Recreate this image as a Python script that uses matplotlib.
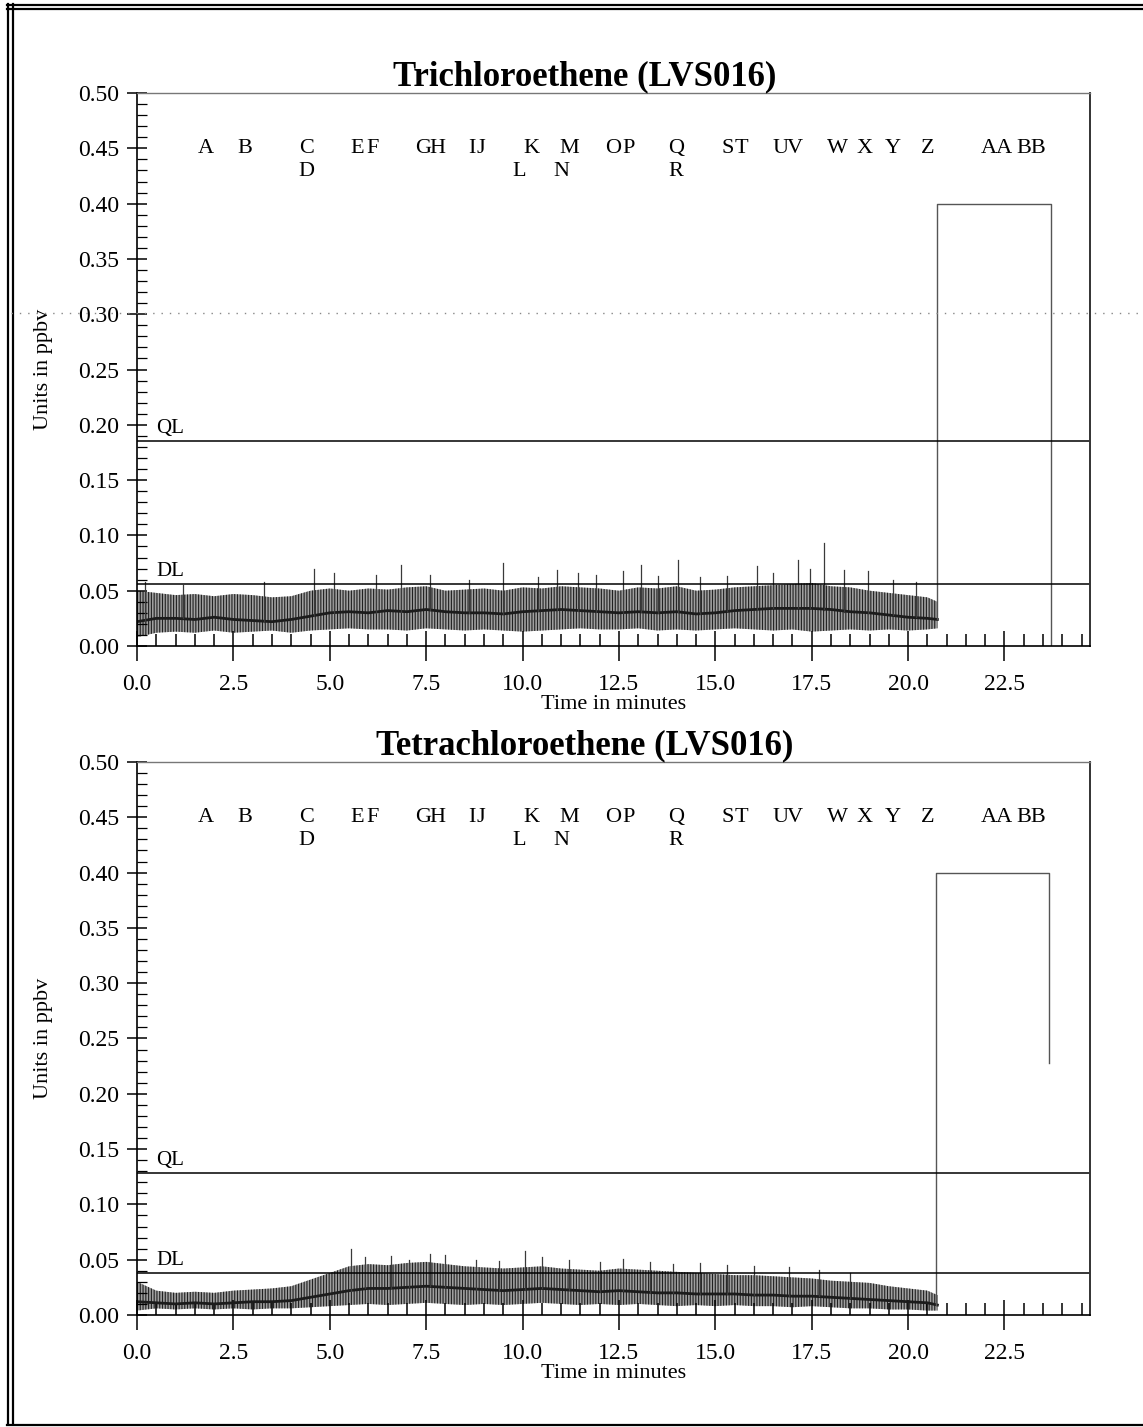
"""TCE / PCE chromatogram traces with QL and DL limits"""
import matplotlib
matplotlib.use("Agg")
import matplotlib.pyplot as plt
from matplotlib.lines import Line2D
from matplotlib.ticker import MultipleLocator, FormatStrFormatter

plt.rcParams["font.family"] = ["Liberation Serif", "DejaVu Serif"]
plt.rcParams["hatch.linewidth"] = 0.8

# sample time grid for the baseline envelopes (minutes)
t = [0.0, 0.5, 1.0, 1.5, 2.0, 2.5, 3.0, 3.5, 4.0, 4.5, 5.0, 5.5, 6.0, 6.5, 7.0,
     7.5, 8.0, 8.5, 9.0, 9.5, 10.0, 10.5, 11.0, 11.5, 12.0, 12.5, 13.0, 13.5,
     14.0, 14.5, 15.0, 15.5, 16.0, 16.5, 17.0, 17.5, 18.0, 18.5, 19.0, 19.5,
     20.0, 20.5, 20.76]

# Trichloroethene baseline (ppbv)
tce_low = [0.008, 0.012, 0.013, 0.012, 0.014, 0.012, 0.013, 0.014, 0.012, 0.014,
           0.015, 0.016, 0.015, 0.015, 0.014, 0.016, 0.015, 0.014, 0.015, 0.014,
           0.013, 0.014, 0.015, 0.016, 0.015, 0.015, 0.016, 0.014, 0.015, 0.014,
           0.015, 0.016, 0.015, 0.014, 0.015, 0.013, 0.014, 0.015, 0.014, 0.015,
           0.014, 0.015, 0.016]
tce_high = [0.050, 0.048, 0.046, 0.047, 0.045, 0.047, 0.046, 0.044, 0.045, 0.050,
            0.052, 0.050, 0.052, 0.051, 0.053, 0.054, 0.050, 0.051, 0.052, 0.050,
            0.053, 0.052, 0.054, 0.053, 0.052, 0.050, 0.053, 0.052, 0.054, 0.050,
            0.051, 0.053, 0.054, 0.055, 0.056, 0.057, 0.054, 0.053, 0.050, 0.048,
            0.046, 0.044, 0.040]
tce_mid = [0.022, 0.025, 0.025, 0.024, 0.026, 0.024, 0.023, 0.022, 0.024, 0.027,
           0.030, 0.031, 0.030, 0.032, 0.031, 0.033, 0.031, 0.030, 0.030, 0.029,
           0.031, 0.032, 0.033, 0.032, 0.031, 0.030, 0.031, 0.030, 0.031, 0.029,
           0.030, 0.032, 0.033, 0.034, 0.034, 0.034, 0.033, 0.031, 0.030, 0.028,
           0.026, 0.025, 0.024]
tce_spike_t = [0.2, 1.2, 3.3, 4.6, 5.1, 6.2, 6.84, 7.6, 8.6, 9.5, 10.4, 10.9, 11.45,
               11.9, 12.6, 13.08, 13.5, 14.04, 14.6, 15.3, 16.07, 16.5, 17.14,
               17.45, 17.83, 18.35, 18.97, 19.6, 20.2]
tce_spike_v = [0.058, 0.055, 0.058, 0.070, 0.066, 0.064, 0.073, 0.064, 0.060, 0.075,
               0.062, 0.069, 0.066, 0.064, 0.068, 0.073, 0.063, 0.078, 0.062, 0.063,
               0.072, 0.066, 0.078, 0.070, 0.093, 0.069, 0.068, 0.060, 0.058]
tce_step_t = [20.76, 20.76, 23.7, 23.7]
tce_step_v = [0.024, 0.40, 0.40, 0.0]
tce_ql, tce_dl = 0.185, 0.056

# Tetrachloroethene baseline (ppbv)
pce_low = [0.004, 0.006, 0.005, 0.006, 0.005, 0.006, 0.005, 0.006, 0.006, 0.007,
           0.008, 0.009, 0.010, 0.009, 0.010, 0.011, 0.010, 0.009, 0.010, 0.009,
           0.010, 0.011, 0.010, 0.009, 0.010, 0.009, 0.010, 0.009, 0.008, 0.009,
           0.008, 0.009, 0.008, 0.008, 0.007, 0.008, 0.007, 0.006, 0.006, 0.005,
           0.005, 0.004, 0.004]
pce_high = [0.030, 0.022, 0.020, 0.021, 0.020, 0.022, 0.023, 0.024, 0.026, 0.032,
            0.038, 0.044, 0.046, 0.045, 0.047, 0.048, 0.046, 0.044, 0.043, 0.042,
            0.043, 0.044, 0.042, 0.041, 0.040, 0.042, 0.041, 0.040, 0.039, 0.038,
            0.037, 0.036, 0.036, 0.035, 0.034, 0.033, 0.031, 0.030, 0.029, 0.026,
            0.024, 0.022, 0.018]
pce_mid = [0.012, 0.011, 0.010, 0.011, 0.010, 0.011, 0.012, 0.012, 0.013, 0.016,
           0.019, 0.022, 0.024, 0.024, 0.025, 0.026, 0.025, 0.024, 0.023, 0.022,
           0.023, 0.024, 0.023, 0.022, 0.021, 0.022, 0.021, 0.020, 0.020, 0.019,
           0.019, 0.019, 0.018, 0.018, 0.017, 0.017, 0.016, 0.015, 0.014, 0.013,
           0.012, 0.011, 0.009]
pce_spike_t = [5.55, 5.9, 6.6, 7.05, 7.6, 8.0, 8.8, 9.4, 10.05, 10.5, 11.2, 12.0,
               12.6, 13.3, 13.9, 14.6, 15.3, 16.0, 16.9, 17.7, 18.5]
pce_spike_v = [0.060, 0.052, 0.053, 0.050, 0.055, 0.054, 0.050, 0.049, 0.058, 0.052,
               0.050, 0.048, 0.051, 0.048, 0.046, 0.047, 0.045, 0.044, 0.043, 0.041,
               0.038]
pce_step_t = [20.72, 20.72, 23.65, 23.65]
pce_step_v = [0.009, 0.40, 0.40, 0.228]
pce_ql, pce_dl = 0.128, 0.038

# peak markers: (letter, retention time, row)
peaks = [("A", 1.79, 0), ("B", 2.80, 0), ("C", 4.40, 0), ("D", 4.40, 1),
         ("E", 5.72, 0), ("F", 6.10, 0), ("G", 7.42, 0), ("H", 7.80, 0),
         ("I", 8.68, 0), ("J", 8.92, 0), ("K", 10.22, 0), ("L", 9.92, 1),
         ("M", 11.22, 0), ("N", 11.0, 1), ("O", 12.36, 0), ("P", 12.74, 0),
         ("Q", 13.98, 0), ("R", 13.98, 1), ("S", 15.32, 0), ("T", 15.68, 0),
         ("U", 16.68, 0), ("V", 17.05, 0), ("W", 18.18, 0), ("X", 18.88, 0),
         ("Y", 19.6, 0), ("Z", 20.5, 0), ("AA", 22.3, 0), ("BB", 23.2, 0)]

panels = [
    ("Trichloroethene (LVS016)", tce_low, tce_high, tce_mid, tce_spike_t,
     tce_spike_v, tce_step_t, tce_step_v, tce_ql, tce_dl, 0.5473),
    ("Tetrachloroethene (LVS016)", pce_low, pce_high, pce_mid, pce_spike_t,
     pce_spike_v, pce_step_t, pce_step_v, pce_ql, pce_dl, 0.0785),
]

fig = plt.figure(figsize=(11.43, 14.27), dpi=100)

for (title, low, high, mid, sp_t, sp_v, st_t, st_v, ql, dl, bottom) in panels:
    ax = fig.add_axes([0.1199, bottom, 0.8338, 0.3875])
    ax.set_xlim(0, 24.72)
    ax.set_ylim(0, 0.50)

    # baseline noise band, hatched so it reads as a dense trace
    ax.fill_between(t, low, high, facecolor="#a0a0a0", edgecolor="#202020",
                    hatch="||||||", lw=0)
    ax.plot(t, mid, color="#1c1c1c", lw=2.0)
    for st, sv in zip(sp_t, sp_v):
        i = min(range(len(t)), key=lambda k: abs(t[k] - st))
        ax.plot([st, st], [mid[i], sv], color="#3a3a3a", lw=0.9)
    ax.plot(st_t, st_v, color="#555555", lw=1.0)

    # quantitation and detection limits
    for val, lab in [(ql, "QL"), (dl, "DL")]:
        ax.axhline(val, color="black", lw=1.1)
        ax.text(0.5, val + 0.003, lab, fontsize=15, ha="left", va="bottom")

    for lab, rt, row in peaks:
        ax.text(rt, 0.45 - 0.021 * row, lab, fontsize=16, ha="center", va="center")

    ax.set_title(title, fontsize=25, fontweight="bold", pad=5, x=0.47)
    ax.set_xlabel("Time in minutes", fontsize=16, labelpad=0)
    ax.set_ylabel("Units in ppbv", fontsize=16, labelpad=18)

    ax.xaxis.set_major_locator(MultipleLocator(2.5))
    ax.xaxis.set_minor_locator(MultipleLocator(0.5))
    ax.yaxis.set_major_locator(MultipleLocator(0.05))
    ax.yaxis.set_minor_locator(MultipleLocator(0.01))
    ax.xaxis.set_major_formatter(FormatStrFormatter("%.1f"))
    ax.yaxis.set_major_formatter(FormatStrFormatter("%.2f"))
    ax.tick_params(axis="x", which="major", direction="inout", length=21, width=1.1,
                   labelsize=17, pad=10)
    ax.tick_params(axis="x", which="minor", direction="in", length=9, width=1.1)
    ax.tick_params(axis="y", which="major", direction="inout", length=14, width=1.1,
                   labelsize=17, pad=6)
    ax.tick_params(axis="y", which="minor", direction="in", length=7, width=0.9)
    for side in ["left", "bottom"]:
        ax.spines[side].set_color("black")
        ax.spines[side].set_linewidth(1.2)
    ax.spines["top"].set_color("#777777")
    ax.spines["top"].set_linewidth(1.0)
    ax.spines["right"].set_color("#333333")
    ax.spines["right"].set_linewidth(1.4)

# page frame (double rule on left and top) and the dotted rule across the page
for x in [0.0070, 0.0110]:
    fig.add_artist(Line2D([x, x], [0.002, 0.997], color="black", lw=1.6))
for y in [0.9965, 0.9935]:
    fig.add_artist(Line2D([0.006, 1.0], [y, y], color="black", lw=1.6))
fig.add_artist(Line2D([0.006, 1.0], [0.0015, 0.0015], color="black", lw=1.6))
fig.add_artist(Line2D([0.010, 1.0], [1 - 313 / 1427, 1 - 313 / 1427], color="#888888",
                      lw=1.0, ls=(0, (1, 5))))

fig.savefig("out.png", dpi=100)
